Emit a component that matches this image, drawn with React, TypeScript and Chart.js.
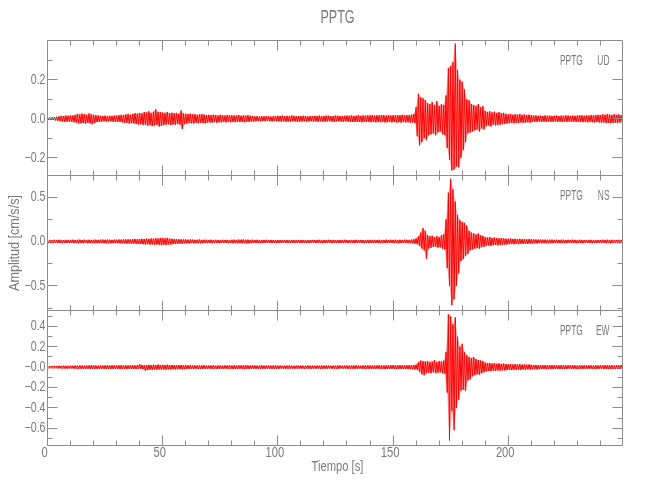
import React, { useEffect, useRef } from "react";
import { Chart, registerables } from "chart.js";

Chart.register(...registerables);

// ---------- data (envelope of each trace, one value per second) ----------
const TITLE = "PPTG";
const STATION = "PPTG";
const X_TITLE = "Tiempo [s]";
const Y_TITLE = "Amplitud [cm/s/s]";
const T_MAX = 249.6;
const X_MAJOR = [0, 50, 100, 150, 200];
const X_LABELS = ["0", "50", "100", "150", "200"];
const X_MINOR = [10, 20, 30, 40, 60, 70, 80, 90, 110, 120, 130, 140, 160, 170, 180, 190, 210, 220, 230, 240];

const UD_UPPER = [
  0.006,0.006,0.007,0.008,0.010,0.012,0.015,0.014,0.016,0.015,
  0.017,0.016,0.020,0.025,0.022,0.026,0.024,0.020,0.027,0.023,
  0.020,0.018,0.017,0.015,0.014,0.016,0.013,0.015,0.014,0.017,
  0.016,0.018,0.020,0.019,0.022,0.024,0.020,0.025,0.028,0.026,
  0.030,0.028,0.034,0.032,0.038,0.030,0.036,0.048,0.035,0.033,
  0.032,0.030,0.035,0.029,0.031,0.028,0.030,0.026,0.042,0.027,
  0.025,0.024,0.026,0.022,0.023,0.020,0.022,0.024,0.021,0.019,
  0.020,0.018,0.021,0.019,0.017,0.020,0.018,0.016,0.019,0.017,
  0.018,0.016,0.017,0.019,0.015,0.017,0.016,0.018,0.015,0.014,
  0.012,0.013,0.011,0.013,0.012,0.014,0.012,0.011,0.013,0.014,
  0.015,0.014,0.016,0.013,0.015,0.014,0.016,0.015,0.013,0.014,
  0.013,0.015,0.014,0.012,0.014,0.013,0.015,0.014,0.016,0.013,
  0.014,0.016,0.015,0.013,0.014,0.016,0.015,0.014,0.013,0.015,
  0.016,0.015,0.017,0.014,0.016,0.018,0.015,0.017,0.016,0.018,
  0.017,0.019,0.016,0.018,0.017,0.019,0.018,0.016,0.019,0.017,
  0.018,0.017,0.019,0.018,0.020,0.017,0.019,0.018,0.021,0.024,
  0.060,0.128,0.110,0.105,0.095,0.080,0.075,0.085,0.070,0.090,
  0.065,0.075,0.070,0.120,0.260,0.270,0.290,0.385,0.250,0.200,
  0.190,0.150,0.100,0.095,0.075,0.070,0.065,0.075,0.060,0.065,
  0.040,0.035,0.038,0.032,0.036,0.030,0.034,0.028,0.030,0.025,
  0.022,0.025,0.020,0.023,0.021,0.024,0.020,0.022,0.019,0.021,
  0.018,0.016,0.017,0.015,0.016,0.014,0.017,0.015,0.016,0.014,
  0.015,0.017,0.014,0.016,0.015,0.017,0.016,0.014,0.016,0.015,
  0.016,0.018,0.017,0.015,0.018,0.016,0.019,0.017,0.018,0.020,
  0.019,0.022,0.020,0.024,0.021,0.019,0.023,0.020,0.022,0.018,
];
const UD_LOWER = [
  -0.006,-0.007,-0.007,-0.009,-0.010,-0.013,-0.014,-0.016,-0.015,-0.014,
  -0.016,-0.018,-0.020,-0.024,-0.023,-0.022,-0.026,-0.021,-0.025,-0.028,
  -0.022,-0.017,-0.016,-0.015,-0.013,-0.015,-0.014,-0.013,-0.016,-0.015,
  -0.017,-0.016,-0.019,-0.021,-0.020,-0.025,-0.023,-0.024,-0.027,-0.030,
  -0.028,-0.032,-0.030,-0.036,-0.033,-0.038,-0.034,-0.031,-0.040,-0.036,
  -0.033,-0.030,-0.028,-0.032,-0.029,-0.031,-0.027,-0.030,-0.053,-0.028,
  -0.026,-0.022,-0.024,-0.025,-0.021,-0.023,-0.020,-0.022,-0.024,-0.020,
  -0.019,-0.020,-0.017,-0.021,-0.018,-0.019,-0.017,-0.019,-0.016,-0.018,
  -0.017,-0.018,-0.015,-0.017,-0.016,-0.018,-0.015,-0.016,-0.014,-0.015,
  -0.013,-0.012,-0.014,-0.012,-0.013,-0.011,-0.013,-0.014,-0.012,-0.013,
  -0.014,-0.015,-0.013,-0.016,-0.014,-0.015,-0.013,-0.014,-0.016,-0.015,
  -0.014,-0.013,-0.015,-0.014,-0.013,-0.015,-0.014,-0.016,-0.013,-0.015,
  -0.015,-0.014,-0.013,-0.015,-0.016,-0.014,-0.013,-0.015,-0.016,-0.014,
  -0.015,-0.017,-0.016,-0.015,-0.017,-0.016,-0.018,-0.015,-0.017,-0.016,
  -0.018,-0.016,-0.019,-0.017,-0.018,-0.016,-0.019,-0.018,-0.017,-0.019,
  -0.017,-0.019,-0.018,-0.020,-0.017,-0.019,-0.018,-0.020,-0.019,-0.022,
  -0.090,-0.137,-0.120,-0.100,-0.110,-0.085,-0.080,-0.075,-0.085,-0.070,
  -0.065,-0.080,-0.085,-0.150,-0.210,-0.265,-0.260,-0.245,-0.250,-0.200,
  -0.160,-0.120,-0.075,-0.070,-0.065,-0.060,-0.055,-0.065,-0.050,-0.055,
  -0.038,-0.035,-0.040,-0.030,-0.034,-0.032,-0.030,-0.028,-0.026,-0.025,
  -0.023,-0.021,-0.024,-0.020,-0.022,-0.019,-0.021,-0.020,-0.018,-0.020,
  -0.017,-0.015,-0.016,-0.014,-0.017,-0.015,-0.016,-0.014,-0.015,-0.016,
  -0.014,-0.016,-0.015,-0.017,-0.014,-0.016,-0.015,-0.017,-0.015,-0.016,
  -0.017,-0.016,-0.018,-0.017,-0.019,-0.016,-0.018,-0.019,-0.017,-0.019,
  -0.020,-0.019,-0.022,-0.020,-0.023,-0.021,-0.020,-0.022,-0.019,-0.021,
];

const NS_UPPER = [
  0.015,0.018,0.016,0.019,0.017,0.020,0.018,0.016,0.019,0.017,
  0.018,0.020,0.017,0.019,0.021,0.018,0.020,0.017,0.019,0.018,
  0.019,0.021,0.018,0.020,0.022,0.019,0.021,0.020,0.018,0.021,
  0.020,0.022,0.021,0.024,0.022,0.025,0.023,0.026,0.028,0.025,
  0.027,0.030,0.028,0.032,0.029,0.034,0.031,0.036,0.033,0.040,
  0.038,0.035,0.041,0.032,0.030,0.027,0.025,0.026,0.023,0.024,
  0.022,0.020,0.023,0.021,0.019,0.020,0.022,0.018,0.020,0.019,
  0.018,0.020,0.017,0.019,0.018,0.016,0.019,0.017,0.018,0.016,
  0.019,0.021,0.018,0.022,0.020,0.023,0.019,0.021,0.018,0.020,
  0.017,0.019,0.016,0.018,0.017,0.019,0.016,0.018,0.017,0.016,
  0.017,0.016,0.018,0.015,0.017,0.016,0.018,0.017,0.015,0.016,
  0.016,0.018,0.017,0.015,0.016,0.018,0.016,0.017,0.019,0.016,
  0.018,0.017,0.019,0.016,0.018,0.017,0.016,0.018,0.017,0.019,
  0.017,0.016,0.018,0.017,0.019,0.016,0.018,0.017,0.016,0.018,
  0.019,0.017,0.018,0.016,0.019,0.017,0.018,0.020,0.017,0.019,
  0.018,0.020,0.017,0.019,0.018,0.020,0.019,0.018,0.021,0.024,
  0.035,0.060,0.100,0.150,0.120,0.070,0.060,0.065,0.050,0.060,
  0.050,0.070,0.080,0.250,0.550,0.707,0.590,0.450,0.300,0.240,
  0.220,0.210,0.180,0.120,0.100,0.090,0.080,0.090,0.070,0.065,
  0.050,0.045,0.050,0.040,0.045,0.040,0.035,0.040,0.035,0.032,
  0.030,0.033,0.028,0.031,0.027,0.030,0.026,0.028,0.025,0.027,
  0.024,0.022,0.023,0.021,0.022,0.020,0.021,0.019,0.020,0.021,
  0.019,0.020,0.018,0.020,0.019,0.017,0.019,0.018,0.020,0.018,
  0.017,0.019,0.018,0.016,0.018,0.017,0.019,0.018,0.016,0.018,
  0.017,0.019,0.018,0.020,0.017,0.019,0.018,0.017,0.019,0.018,
];
const NS_LOWER = [
  -0.016,-0.017,-0.019,-0.016,-0.018,-0.017,-0.020,-0.018,-0.016,-0.019,
  -0.017,-0.019,-0.018,-0.020,-0.017,-0.019,-0.018,-0.021,-0.018,-0.019,
  -0.020,-0.018,-0.021,-0.019,-0.020,-0.022,-0.019,-0.021,-0.020,-0.019,
  -0.021,-0.020,-0.023,-0.022,-0.025,-0.023,-0.026,-0.024,-0.027,-0.029,
  -0.028,-0.031,-0.034,-0.030,-0.035,-0.032,-0.036,-0.033,-0.038,-0.042,
  -0.036,-0.039,-0.033,-0.035,-0.029,-0.028,-0.026,-0.024,-0.025,-0.022,
  -0.021,-0.023,-0.020,-0.022,-0.021,-0.019,-0.021,-0.020,-0.018,-0.020,
  -0.017,-0.019,-0.018,-0.016,-0.019,-0.017,-0.018,-0.016,-0.019,-0.017,
  -0.020,-0.019,-0.022,-0.020,-0.021,-0.019,-0.022,-0.020,-0.021,-0.018,
  -0.018,-0.016,-0.019,-0.017,-0.018,-0.016,-0.018,-0.017,-0.016,-0.018,
  -0.016,-0.017,-0.015,-0.018,-0.016,-0.017,-0.015,-0.016,-0.018,-0.017,
  -0.017,-0.016,-0.018,-0.017,-0.015,-0.017,-0.018,-0.016,-0.017,-0.018,
  -0.016,-0.018,-0.017,-0.019,-0.017,-0.016,-0.018,-0.017,-0.019,-0.016,
  -0.018,-0.017,-0.016,-0.019,-0.017,-0.018,-0.016,-0.019,-0.017,-0.018,
  -0.017,-0.019,-0.018,-0.017,-0.020,-0.018,-0.017,-0.019,-0.018,-0.017,
  -0.019,-0.018,-0.020,-0.017,-0.019,-0.018,-0.020,-0.019,-0.022,-0.025,
  -0.030,-0.050,-0.080,-0.100,-0.195,-0.080,-0.070,-0.060,-0.060,-0.070,
  -0.065,-0.080,-0.090,-0.300,-0.500,-0.720,-0.650,-0.500,-0.360,-0.220,
  -0.200,-0.160,-0.140,-0.100,-0.090,-0.080,-0.075,-0.080,-0.065,-0.060,
  -0.048,-0.045,-0.050,-0.042,-0.040,-0.044,-0.038,-0.036,-0.035,-0.033,
  -0.031,-0.028,-0.032,-0.027,-0.030,-0.026,-0.029,-0.025,-0.027,-0.024,
  -0.023,-0.021,-0.022,-0.020,-0.021,-0.019,-0.021,-0.020,-0.019,-0.020,
  -0.018,-0.020,-0.019,-0.018,-0.020,-0.018,-0.017,-0.019,-0.018,-0.020,
  -0.018,-0.017,-0.019,-0.018,-0.016,-0.018,-0.019,-0.017,-0.018,-0.016,
  -0.018,-0.017,-0.019,-0.018,-0.020,-0.018,-0.017,-0.019,-0.018,-0.019,
];

const EW_UPPER = [
  0.010,0.012,0.011,0.013,0.012,0.014,0.013,0.015,0.014,0.013,
  0.015,0.014,0.016,0.015,0.017,0.016,0.015,0.017,0.016,0.018,
  0.016,0.017,0.015,0.018,0.016,0.017,0.019,0.016,0.018,0.017,
  0.018,0.017,0.019,0.016,0.018,0.017,0.019,0.018,0.017,0.019,
  0.028,0.022,0.018,0.021,0.023,0.020,0.024,0.022,0.025,0.021,
  0.023,0.021,0.024,0.020,0.022,0.019,0.021,0.020,0.022,0.019,
  0.020,0.018,0.019,0.017,0.018,0.016,0.018,0.017,0.019,0.016,
  0.017,0.016,0.018,0.015,0.017,0.016,0.015,0.017,0.016,0.018,
  0.016,0.018,0.017,0.019,0.016,0.018,0.020,0.017,0.016,0.018,
  0.017,0.015,0.016,0.018,0.015,0.017,0.016,0.015,0.017,0.016,
  0.015,0.016,0.014,0.016,0.015,0.017,0.015,0.014,0.016,0.015,
  0.016,0.014,0.015,0.017,0.015,0.016,0.014,0.016,0.015,0.017,
  0.015,0.017,0.016,0.014,0.016,0.015,0.017,0.016,0.015,0.016,
  0.016,0.015,0.017,0.016,0.018,0.016,0.015,0.017,0.016,0.018,
  0.017,0.016,0.018,0.017,0.019,0.017,0.016,0.018,0.017,0.019,
  0.018,0.017,0.019,0.018,0.017,0.019,0.018,0.020,0.019,0.022,
  0.025,0.050,0.065,0.060,0.055,0.060,0.050,0.055,0.070,0.050,
  0.060,0.055,0.065,0.150,0.520,0.500,0.420,0.490,0.300,0.200,
  0.230,0.150,0.120,0.100,0.090,0.100,0.080,0.070,0.065,0.060,
  0.045,0.040,0.042,0.036,0.040,0.034,0.037,0.032,0.035,0.030,
  0.028,0.031,0.027,0.030,0.026,0.029,0.025,0.027,0.024,0.026,
  0.023,0.021,0.022,0.020,0.021,0.019,0.020,0.018,0.019,0.020,
  0.018,0.019,0.017,0.019,0.018,0.016,0.018,0.017,0.019,0.017,
  0.016,0.018,0.017,0.019,0.016,0.018,0.017,0.016,0.018,0.017,
  0.018,0.017,0.019,0.018,0.020,0.018,0.017,0.019,0.018,0.020,
];
const EW_LOWER = [
  -0.011,-0.010,-0.012,-0.011,-0.013,-0.012,-0.014,-0.013,-0.015,-0.014,
  -0.014,-0.016,-0.015,-0.017,-0.015,-0.016,-0.018,-0.016,-0.017,-0.015,
  -0.017,-0.016,-0.018,-0.016,-0.017,-0.019,-0.016,-0.018,-0.017,-0.016,
  -0.017,-0.019,-0.018,-0.016,-0.019,-0.018,-0.017,-0.019,-0.018,-0.016,
  -0.015,-0.020,-0.035,-0.028,-0.024,-0.026,-0.022,-0.025,-0.023,-0.024,
  -0.022,-0.024,-0.021,-0.023,-0.020,-0.022,-0.021,-0.019,-0.021,-0.020,
  -0.018,-0.019,-0.017,-0.019,-0.016,-0.018,-0.017,-0.016,-0.018,-0.017,
  -0.016,-0.018,-0.015,-0.017,-0.016,-0.018,-0.017,-0.015,-0.017,-0.016,
  -0.018,-0.017,-0.019,-0.016,-0.018,-0.019,-0.017,-0.018,-0.016,-0.017,
  -0.016,-0.017,-0.015,-0.016,-0.017,-0.015,-0.016,-0.017,-0.015,-0.016,
  -0.016,-0.014,-0.015,-0.017,-0.015,-0.014,-0.016,-0.015,-0.017,-0.014,
  -0.015,-0.016,-0.014,-0.015,-0.017,-0.015,-0.016,-0.014,-0.016,-0.015,
  -0.016,-0.015,-0.014,-0.016,-0.015,-0.017,-0.015,-0.014,-0.016,-0.015,
  -0.017,-0.016,-0.015,-0.017,-0.016,-0.015,-0.017,-0.016,-0.018,-0.016,
  -0.016,-0.018,-0.017,-0.016,-0.018,-0.017,-0.019,-0.017,-0.018,-0.016,
  -0.017,-0.019,-0.018,-0.017,-0.019,-0.018,-0.020,-0.018,-0.021,-0.023,
  -0.025,-0.045,-0.070,-0.080,-0.060,-0.055,-0.060,-0.050,-0.060,-0.055,
  -0.050,-0.060,-0.065,-0.250,-0.720,-0.430,-0.620,-0.400,-0.320,-0.230,
  -0.220,-0.230,-0.130,-0.120,-0.090,-0.080,-0.070,-0.075,-0.060,-0.050,
  -0.042,-0.038,-0.040,-0.034,-0.037,-0.033,-0.035,-0.030,-0.032,-0.029,
  -0.027,-0.029,-0.025,-0.028,-0.024,-0.027,-0.023,-0.026,-0.022,-0.024,
  -0.021,-0.020,-0.022,-0.019,-0.020,-0.018,-0.020,-0.019,-0.018,-0.019,
  -0.017,-0.019,-0.018,-0.017,-0.019,-0.018,-0.016,-0.018,-0.017,-0.019,
  -0.018,-0.016,-0.017,-0.019,-0.017,-0.016,-0.018,-0.017,-0.019,-0.017,
  -0.016,-0.018,-0.017,-0.019,-0.018,-0.017,-0.019,-0.018,-0.017,-0.019,
];

const UD_RANGE = [-0.291, 0.401];
const UD_MAJOR = [-0.2, 0, 0.2];
const UD_LABELS = ["\u22120.2", "0.0", "0.2"];
const UD_MINOR = [-0.1, 0.1, 0.3];

const NS_RANGE = [-0.778, 0.744];
const NS_MAJOR = [-0.5, 0, 0.5];
const NS_LABELS = ["\u22120.5", "0.0", "0.5"];
const NS_MINOR = [-0.75, -0.25, 0.25];

const EW_RANGE = [-0.77, 0.557];
const EW_MAJOR = [-0.6, -0.4, -0.2, 0, 0.2, 0.4];
const EW_LABELS = ["\u22120.6", "\u22120.4", "\u22120.2", "\u22120.0", "0.2", "0.4"];
const EW_MINOR = [-0.7, -0.5, -0.3, -0.1, 0.1, 0.3, 0.5];

// ---------- layout / style ----------
const W = 650;
const H = 500;
const LEFT = 47.5;
const RIGHT = 622.5;
const AXIS = "#8c8c8c";
const TEXT = "#7a7a7a";
const RED = "rgb(255,0,0)";
const BAND = "rgba(255,0,0,0.35)";
const FONT = '"Liberation Sans", Arial, sans-serif';

type Panel = {
  comp: string;
  upper: number[];
  lower: number[];
  range: number[];
  major: number[];
  labels: string[];
  minor: number[];
  top: number;
  bottom: number;
  kind: "top" | "mid" | "bottom";
};

const PANELS: Panel[] = [
  { comp: "UD", upper: UD_UPPER, lower: UD_LOWER, range: UD_RANGE, major: UD_MAJOR, labels: UD_LABELS, minor: UD_MINOR, top: 40.5, bottom: 175.5, kind: "top" },
  { comp: "NS", upper: NS_UPPER, lower: NS_LOWER, range: NS_RANGE, major: NS_MAJOR, labels: NS_LABELS, minor: NS_MINOR, top: 175.5, bottom: 310.5, kind: "mid" },
  { comp: "EW", upper: EW_UPPER, lower: EW_LOWER, range: EW_RANGE, major: EW_MAJOR, labels: EW_LABELS, minor: EW_MINOR, top: 310.5, bottom: 445.5, kind: "bottom" },
];

function text(
  ctx: CanvasRenderingContext2D,
  s: string,
  x: number,
  y: number,
  size: number,
  sx: number,
  align: CanvasTextAlign,
  rot = 0
) {
  ctx.save();
  ctx.translate(x, y);
  if (rot) ctx.rotate(rot);
  ctx.scale(sx, 1);
  ctx.font = `${size}px ${FONT}`;
  ctx.fillStyle = TEXT;
  ctx.textAlign = align;
  ctx.textBaseline = "middle";
  ctx.fillText(s, 0, 0);
  ctx.restore();
}

function framePlugin(p: Panel) {
  return {
    id: "frame" + p.comp,
    afterDraw(chart: any) {
      const ctx: CanvasRenderingContext2D = chart.ctx;
      const { left, right, top, bottom } = chart.chartArea;
      const xs = chart.scales.x;
      const ys = chart.scales.y;
      ctx.save();
      ctx.strokeStyle = AXIS;
      ctx.lineWidth = 1;
      ctx.beginPath();
      ctx.moveTo(left, top);
      ctx.lineTo(right, top);
      ctx.moveTo(right, top);
      ctx.lineTo(right, bottom);
      ctx.moveTo(left, top);
      ctx.lineTo(left, bottom);
      ctx.moveTo(left, bottom);
      ctx.lineTo(right, bottom);
      const yTick = (v: number, len: number) => {
        const py = Math.round(ys.getPixelForValue(v) - 0.5) + 0.5;
        ctx.moveTo(left, py);
        ctx.lineTo(left + len, py);
        ctx.moveTo(right, py);
        ctx.lineTo(right - len, py);
      };
      p.major.forEach((v) => yTick(v, 10));
      p.minor.forEach((v) => yTick(v, 5));
      const xTick = (v: number, len: number) => {
        const px = Math.round(xs.getPixelForValue(v) - 0.5) + 0.5;
        ctx.moveTo(px, top);
        ctx.lineTo(px, top + len);
        ctx.moveTo(px, bottom);
        ctx.lineTo(px, bottom - len);
      };
      X_MAJOR.forEach((v) => xTick(v, 10));
      X_MINOR.forEach((v) => xTick(v, 5));
      ctx.stroke();
      ctx.restore();

      p.major.forEach((v, i) => {
        text(ctx, p.labels[i], 45.5, ys.getPixelForValue(v), 14, 0.76, "right");
      });
      text(ctx, STATION, 560, top + 20.5, 14, 0.6, "left");
      text(ctx, p.comp, 609.5, top + 20.5, 14, 0.6, "right");

      if (p.kind === "top") {
        text(ctx, TITLE, 337.5, 18, 19, 0.66, "center");
      }
      if (p.kind === "mid") {
        text(ctx, Y_TITLE, 15, (top + bottom) / 2, 14, 0.9, "center", -Math.PI / 2);
      }
      if (p.kind === "bottom") {
        X_MAJOR.forEach((v, i) => {
          text(ctx, X_LABELS[i], xs.getPixelForValue(v) - 3, 453.5, 14, 0.8, "center");
        });
        text(ctx, X_TITLE, 337.5, 467.5, 14, 0.8, "center");
      }
    },
  };
}

function zigzag(upper: number[], lower: number[]) {
  const pts: { x: number; y: number }[] = [];
  for (let i = 0; i < upper.length; i++) {
    pts.push({ x: i, y: upper[i] });
    pts.push({ x: i + 0.5, y: lower[i] });
  }
  return pts;
}

function makeConfig(p: Panel): any {
  return {
    type: "line",
    data: {
      datasets: [
        {
          data: p.upper.map((v, i) => ({ x: i, y: v })),
          borderWidth: 0,
          borderColor: "rgba(0,0,0,0)",
          pointRadius: 0,
          tension: 0,
          fill: false,
        },
        {
          data: p.lower.map((v, i) => ({ x: i + 0.5, y: v })),
          borderWidth: 0,
          borderColor: "rgba(0,0,0,0)",
          backgroundColor: BAND,
          pointRadius: 0,
          tension: 0,
          fill: "-1",
        },
        {
          data: zigzag(p.upper, p.lower),
          borderColor: RED,
          borderWidth: 1,
          pointRadius: 0,
          tension: 0,
          fill: false,
          clip: false,
        },
      ],
    },
    options: {
      animation: false,
      responsive: false,
      devicePixelRatio: 1,
      events: [],
      layout: {
        padding: { left: LEFT, right: W - RIGHT, top: p.top, bottom: H - p.bottom },
      },
      plugins: {
        legend: { display: false },
        tooltip: { enabled: false },
        title: { display: false },
        filler: { propagate: false },
      },
      scales: {
        x: { type: "linear", min: 0, max: T_MAX, display: false },
        y: { type: "linear", min: p.range[0], max: p.range[1], display: false },
      },
    },
    plugins: [framePlugin(p)],
  };
}

export default function App() {
  const r0 = useRef<HTMLCanvasElement>(null);
  const r1 = useRef<HTMLCanvasElement>(null);
  const r2 = useRef<HTMLCanvasElement>(null);
  useEffect(() => {
    const refs = [r0, r1, r2];
    const charts = PANELS.map((p, i) => new Chart(refs[i].current as HTMLCanvasElement, makeConfig(p)));
    return () => charts.forEach((c) => c.destroy());
  }, []);
  const cs: React.CSSProperties = { position: "absolute", left: 0, top: 0, width: W, height: H };
  return (
    <div style={{ position: "absolute", left: 0, top: 0, width: W, height: H, background: "#fff" }}>
      <canvas ref={r0} width={W} height={H} style={cs} />
      <canvas ref={r1} width={W} height={H} style={cs} />
      <canvas ref={r2} width={W} height={H} style={cs} />
    </div>
  );
}
